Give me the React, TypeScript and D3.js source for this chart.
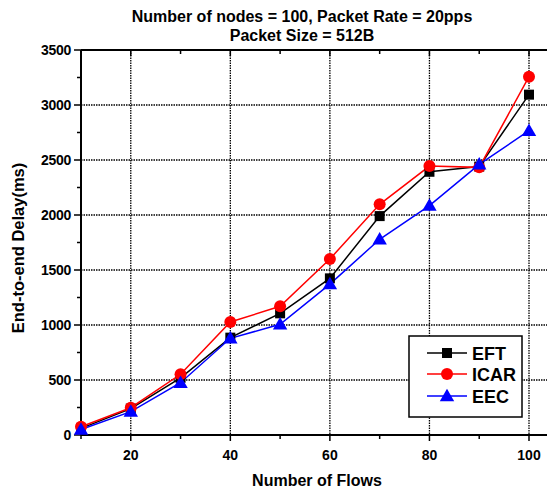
import React, { useEffect, useRef } from 'react';
import * as d3 from 'd3';

// Data
const flows = [10, 20, 30, 40, 50, 60, 70, 80, 90, 100];
const eft = [60, 240, 520, 885, 1106, 1424, 1990, 2393, 2440, 3094];
const icar = [75, 248, 552, 1027, 1170, 1600, 2097, 2445, 2433, 3257];
const eec = [50, 212, 475, 879, 1006, 1372, 1779, 2085, 2460, 2766];
const seriesNames = ['EFT', 'ICAR', 'EEC'];
const seriesColors = ['#000000', '#ff0000', '#0000ff'];
const xTicks = [20, 40, 60, 80, 100];
const yTicks = [0, 500, 1000, 1500, 2000, 2500, 3000, 3500];

const App = () => {
  const svgRef = useRef<SVGSVGElement>(null);

  useEffect(() => {
    const svg = d3.select(svgRef.current);
    svg.selectAll('*').remove();

    const font = '"Liberation Sans", Arial, sans-serif';
    const left = 81, right = 529, top = 50, bottom = 435, axisEnd = 547;

    const x = d3.scaleLinear().domain([10, 100]).range([left, right]);
    const y = d3.scaleLinear().domain([0, 3500]).range([bottom, top]);

    const g = svg.append('g');

    // dotted grid
    xTicks.forEach(t => {
      g.append('line')
        .attr('x1', x(t)).attr('x2', x(t)).attr('y1', top).attr('y2', bottom)
        .attr('stroke', '#000').attr('stroke-width', 1.3).attr('stroke-dasharray', '1.5,1');
    });
    yTicks.filter(t => t > 0 && t < 3500).forEach(t => {
      g.append('line')
        .attr('x1', left).attr('x2', axisEnd).attr('y1', y(t)).attr('y2', y(t))
        .attr('stroke', '#000').attr('stroke-width', 1.3).attr('stroke-dasharray', '1.5,1');
    });

    // axes lines
    g.append('line').attr('x1', left).attr('x2', axisEnd).attr('y1', bottom).attr('y2', bottom)
      .attr('stroke', '#000').attr('stroke-width', 2);
    g.append('line').attr('x1', left).attr('x2', axisEnd).attr('y1', top).attr('y2', top)
      .attr('stroke', '#000').attr('stroke-width', 2);
    g.append('line').attr('x1', left).attr('x2', left).attr('y1', top).attr('y2', bottom)
      .attr('stroke', '#000').attr('stroke-width', 2);

    // x ticks (major + minor)
    d3.range(10, 101, 10).forEach(t => {
      const major = t % 20 === 0;
      const len = major ? 6 : 4;
      g.append('line').attr('x1', x(t)).attr('x2', x(t)).attr('y1', bottom).attr('y2', bottom + len)
        .attr('stroke', '#000').attr('stroke-width', 1.5);
      g.append('line').attr('x1', x(t)).attr('x2', x(t)).attr('y1', top).attr('y2', top + len)
        .attr('stroke', '#000').attr('stroke-width', 1.5);
    });
    xTicks.forEach(t => {
      g.append('text').attr('x', x(t)).attr('y', bottom + 25)
        .attr('text-anchor', 'middle').style('font-family', font).style('font-weight', 'bold')
        .style('font-size', '14px').text(t);
    });

    // y ticks
    d3.range(0, 3501, 250).forEach(t => {
      const major = t % 500 === 0;
      g.append('line').attr('x1', left - (major ? 7 : 4)).attr('x2', left).attr('y1', y(t)).attr('y2', y(t))
        .attr('stroke', '#000').attr('stroke-width', 1.5);
    });
    yTicks.forEach(t => {
      g.append('text').attr('x', left - 10).attr('y', y(t) + 5)
        .attr('text-anchor', 'end').style('font-family', font).style('font-weight', 'bold')
        .style('font-size', '14px').style('letter-spacing', '-0.3px').text(t);
    });

    // titles
    g.append('text').attr('x', 302).attr('y', 22).attr('text-anchor', 'middle')
      .style('font-family', font).style('font-weight', 'bold').style('font-size', '16px')
      .text('Number of nodes = 100, Packet Rate = 20pps');
    g.append('text').attr('x', 302).attr('y', 41).attr('text-anchor', 'middle')
      .style('font-family', font).style('font-weight', 'bold').style('font-size', '16px')
      .text('Packet Size = 512B');
    g.append('text').attr('x', 317).attr('y', 486).attr('text-anchor', 'middle')
      .style('font-family', font).style('font-weight', 'bold').style('font-size', '16px')
      .text('Number of Flows');
    g.append('text').attr('transform', `translate(24,${248}) rotate(-90)`)
      .attr('text-anchor', 'middle')
      .style('font-family', font).style('font-weight', 'bold').style('font-size', '16.5px')
      .text('End-to-end Delay(ms)');

    const allSeries = [eft, icar, eec];
    const line = d3.line<number>().x((d, i) => x(flows[i])).y(d => y(d));

    const drawMarker = (sel: any, k: number, cx: number, cy: number) => {
      const color = seriesColors[k];
      if (k === 0) {
        sel.append('rect').attr('x', cx - 5).attr('y', cy - 5).attr('width', 10).attr('height', 10)
          .attr('fill', color);
      } else if (k === 1) {
        sel.append('circle').attr('cx', cx).attr('cy', cy).attr('r', 6).attr('fill', color);
      } else {
        sel.append('path').attr('d', d3.symbol().type(d3.symbolTriangle).size(90)())
          .attr('transform', `translate(${cx},${cy + 1})`).attr('fill', color);
      }
    };

    allSeries.forEach((vals, k) => {
      g.append('path').attr('d', line(vals)).attr('fill', 'none')
        .attr('stroke', seriesColors[k]).attr('stroke-width', 1.5);
    });
    allSeries.forEach((vals, k) => {
      vals.forEach((v, i) => drawMarker(g, k, x(flows[i]), y(v)));
    });

    // legend
    const lg = g.append('g');
    lg.append('rect').attr('x', 409).attr('y', 336).attr('width', 113).attr('height', 81)
      .attr('fill', '#fff').attr('stroke', '#000').attr('stroke-width', 1.5);
    const rowsY = [353, 374, 396];
    seriesNames.forEach((name, k) => {
      const ry = rowsY[k];
      lg.append('line').attr('x1', 427).attr('x2', 467).attr('y1', ry).attr('y2', ry)
        .attr('stroke', seriesColors[k]).attr('stroke-width', 1.5);
      drawMarker(lg, k, 447, ry);
      lg.append('text').attr('x', 472).attr('y', ry + 6.5)
        .style('font-family', font).style('font-weight', 'bold').style('font-size', '18px')
        .text(name);
    });
  }, []);

  return (
    <svg ref={svgRef} width={547} height={491}
      style={{ position: 'absolute', left: 0, top: 0, background: '#fff' }} />
  );
};

export default App;
